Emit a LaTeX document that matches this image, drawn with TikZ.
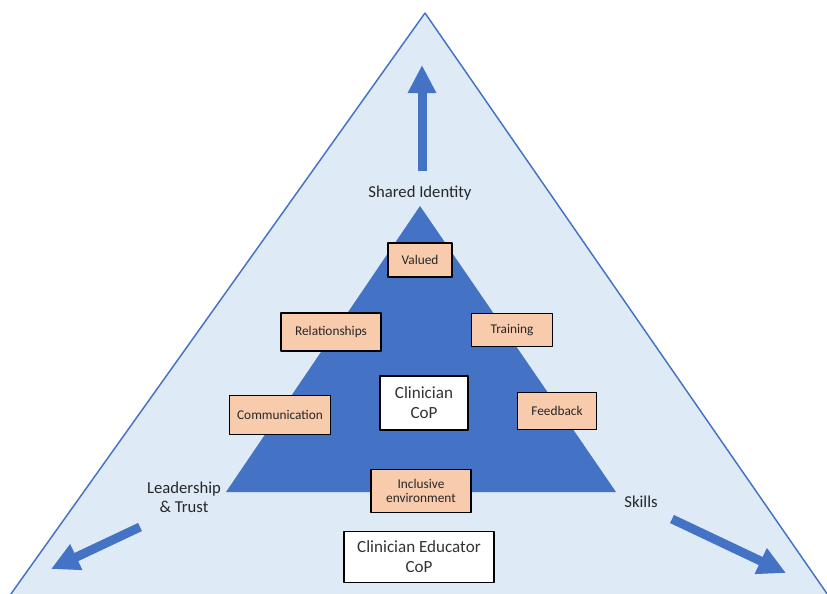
\documentclass[tikz,border=0pt]{standalone}
\usepackage{fontspec}
\setmainfont{Carlito}
\usetikzlibrary{arrows.meta}
\definecolor{paleblue}{HTML}{DEEBF7}
\definecolor{midblue}{HTML}{4472C4}
\definecolor{peach}{HTML}{F8CBAD}
\tikzset{
  tag/.style={draw=black, fill=peach, line width=0.9pt, inner sep=1pt, align=center, text=black!85, font=\fontsize{10}{11}\selectfont},
  cop/.style={draw=black, fill=white, line width=0.9pt, inner sep=1pt, align=center, text=black!80, font=\fontsize{12.8}{15}\selectfont},
  lab/.style={align=center, text=black!85, font=\fontsize{12.5}{14.5}\selectfont},
  bigarrow/.style={midblue, line width=6.75pt, -{Triangle[length=21pt,width=20pt]}}
}
\begin{document}
\begin{tikzpicture}[line join=round, x=0.75pt, y=-0.75pt]
\useasboundingbox (0,0) rectangle (827,593);
\clip (0,0) rectangle (827,593);
% outer and inner triangles
\filldraw[fill=paleblue, draw=midblue, line width=1.1pt] (425,13) -- (866,650) -- (-29,650) -- cycle;
\fill[midblue] (420,206) -- (616,492) -- (226,492) -- cycle;
% arrows
\coordinate (upt) at (422,171);  \coordinate (uph) at (422,65);
\coordinate (lft) at (140,527);  \coordinate (lfh) at (51,569);
\coordinate (rgt) at (672,519);  \coordinate (rgh) at (786,573);
\draw[bigarrow] (upt) -- (uph);
\draw[bigarrow] (lft) -- (lfh);
\draw[bigarrow] (rgt) -- (rgh);
% labels
\node[lab] (shared) at (420,193) {Shared Identity};
\node[lab] (lead) at (184,497) {Leadership\\\& Trust};
\node[lab] (skills) at (641,502) {Skills};
% boxes
\foreach \n/\x/\y/\w/\h/\t in {valued/420/260/48/25.5/Valued, rel/331/332/75/28.5/Relationships, train/512/330/61/25/Training, comm/280/415/76/29/Communication, feed/557/411/59/28/Feedback, incl/421/491/75/32/{Inclusive\\environment}}
  {\node[tag, minimum width=\w pt, minimum height=\h pt] (\n) at (\x,\y) {\t};}
\node[cop, minimum width=66pt, minimum height=40.5pt] (ccop) at (424,403) {Clinician\\CoP};
\node[cop, minimum width=112.5pt, minimum height=38pt] (cecop) at (419,557) {Clinician Educator\\CoP};
\end{tikzpicture}
\end{document}
